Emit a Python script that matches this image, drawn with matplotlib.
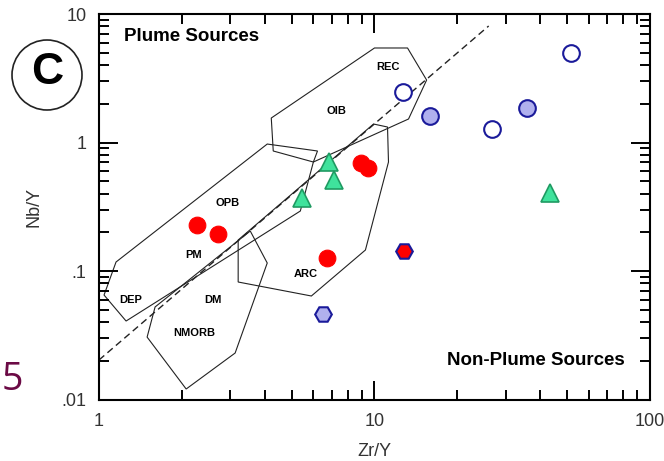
import matplotlib
matplotlib.use("Agg")
import matplotlib.pyplot as plt
from matplotlib.patches import Circle
from matplotlib.ticker import LogLocator, NullFormatter, FixedFormatter, FixedLocator

plt.rcParams["font.family"] = ["Liberation Sans", "DejaVu Sans"]

# field outlines (Zr/Y, Nb/Y)
opb_x = [1.153, 4.08, 6.21, 6.00, 5.38, 1.254, 1.043]
opb_y = [0.1175, 0.973, 0.859, 0.705, 0.293, 0.0408, 0.0650]
oib_x = [4.22, 4.29, 6.00, 13.29, 15.46, 13.18, 10.0]
oib_y = [1.551, 0.859, 0.705, 1.524, 3.064, 5.44, 5.44]
arc_x = [3.20, 9.92, 11.15, 11.24, 9.27, 5.90, 3.20]
arc_y = [0.1743, 1.393, 1.320, 0.705, 0.1457, 0.0639, 0.0821]
nmorb_x = [1.598, 1.495, 2.072, 3.12, 4.08, 3.54]
nmorb_y = [0.0525, 0.0306, 0.01207, 0.0230, 0.1154, 0.2048]
dash_x = [1.0, 25.97]
dash_y = [0.0203, 8.07]

# samples
red_x = [2.27, 2.71, 6.75, 8.90, 9.51]
red_y = [0.228, 0.194, 0.126, 0.693, 0.633]
tri_x = [5.47, 6.86, 7.12, 43.3]
tri_y = [0.370, 0.699, 0.515, 0.404]
open_x = [12.64, 26.65, 51.6]
open_y = [2.47, 1.274, 4.97]
lav_x = [15.85, 35.7]
lav_y = [1.608, 1.856]
hex_lav_x = [6.52]
hex_lav_y = [0.0463]
hex_red_x = [12.85]
hex_red_y = [0.143]

field_labels = ["REC", "OIB", "OPB", "PM", "DEP", "DM", "NMORB", "ARC"]
label_x = [11.15, 7.27, 2.92, 2.20, 1.30, 2.60, 2.22, 5.61]
label_y = [3.87, 1.76, 0.338, 0.133, 0.0595, 0.0595, 0.0329, 0.0947]

fig = plt.figure(figsize=(6.64, 4.61), dpi=100)
ax = fig.add_axes([0.1491, 0.1334, 0.8298, 0.8362])
ax.set_xscale("log")
ax.set_yscale("log")
ax.set_xlim(1, 100)
ax.set_ylim(0.01, 10)

for xs, ys in [(opb_x, opb_y), (oib_x, oib_y), (arc_x, arc_y), (nmorb_x, nmorb_y)]:
    ax.fill(xs, ys, facecolor="none", edgecolor="#222222", linewidth=0.8)
ax.plot(dash_x, dash_y, color="#222222", linestyle=(0, (5, 3)), linewidth=1.0)

for t, x, y in zip(field_labels, label_x, label_y):
    ax.text(x, y, t, fontsize=8, fontweight="bold", ha="center", va="center")

ax.plot(red_x, red_y, "o", ms=12, mfc="#ff0000", mec="#ff0000", mew=0.8)
ax.plot(tri_x, tri_y, "^", ms=13, mfc="#3fe29c", mec="#1f9a62", mew=1.2)
ax.plot(open_x, open_y, "o", ms=12, mfc="white", mec="#1a1a9a", mew=1.5)
ax.plot(lav_x, lav_y, "o", ms=12, mfc="#b0b0ee", mec="#1a1a9a", mew=1.5)
ax.plot(hex_lav_x, hex_lav_y, "H", ms=12, mfc="#b0b0ee", mec="#1a1a9a", mew=1.5)
ax.plot(hex_red_x, hex_red_y, "H", ms=12, mfc="#ff0000", mec="#1a1a9a", mew=1.5)

ax.text(0.045, 0.942, "Plume Sources", transform=ax.transAxes, fontsize=13.5,
        fontweight="bold", ha="left", va="center")
ax.text(0.955, 0.102, "Non-Plume Sources", transform=ax.transAxes, fontsize=13.5,
        fontweight="bold", ha="right", va="center")

for s in ax.spines.values():
    s.set_linewidth(1.5)
ax.xaxis.set_major_locator(FixedLocator([1, 10, 100]))
ax.xaxis.set_major_formatter(FixedFormatter(["1", "10", "100"]))
ax.yaxis.set_major_locator(FixedLocator([0.01, 0.1, 1, 10]))
ax.yaxis.set_major_formatter(FixedFormatter([".01", ".1", "1", "10"]))
ax.xaxis.set_minor_locator(LogLocator(base=10, subs=range(2, 10)))
ax.yaxis.set_minor_locator(LogLocator(base=10, subs=range(2, 10)))
ax.xaxis.set_minor_formatter(NullFormatter())
ax.yaxis.set_minor_formatter(NullFormatter())
ax.tick_params(which="both", direction="in", top=True, right=True, width=1.4,
               labelsize=13, labelcolor="#333333", color="black")
ax.tick_params(which="major", length=13.5)
ax.tick_params(which="minor", length=7)
ax.tick_params(axis="x", which="major", pad=10)
ax.tick_params(axis="y", which="major", pad=9)

ax.set_xlabel("Zr/Y", fontsize=13, color="#333333", labelpad=9)
ax.set_ylabel("Nb/Y", fontsize=13, color="#333333", labelpad=14)

# circled panel letter
fig.patches.append(Circle((47, 461 - 75), 35, transform=None,
                          facecolor="white", edgecolor="#222222", linewidth=1.2))
fig.text(47 / 664, 1 - 73 / 461, "C", fontsize=32, fontweight="bold",
         ha="center", va="center")
fig.text(0.003, 1 - 380 / 461, "5", fontsize=27, color="#6b0a45",
         ha="left", va="center", family=["Open Sans", "DejaVu Sans"])

fig.savefig("out.png", dpi=100)
